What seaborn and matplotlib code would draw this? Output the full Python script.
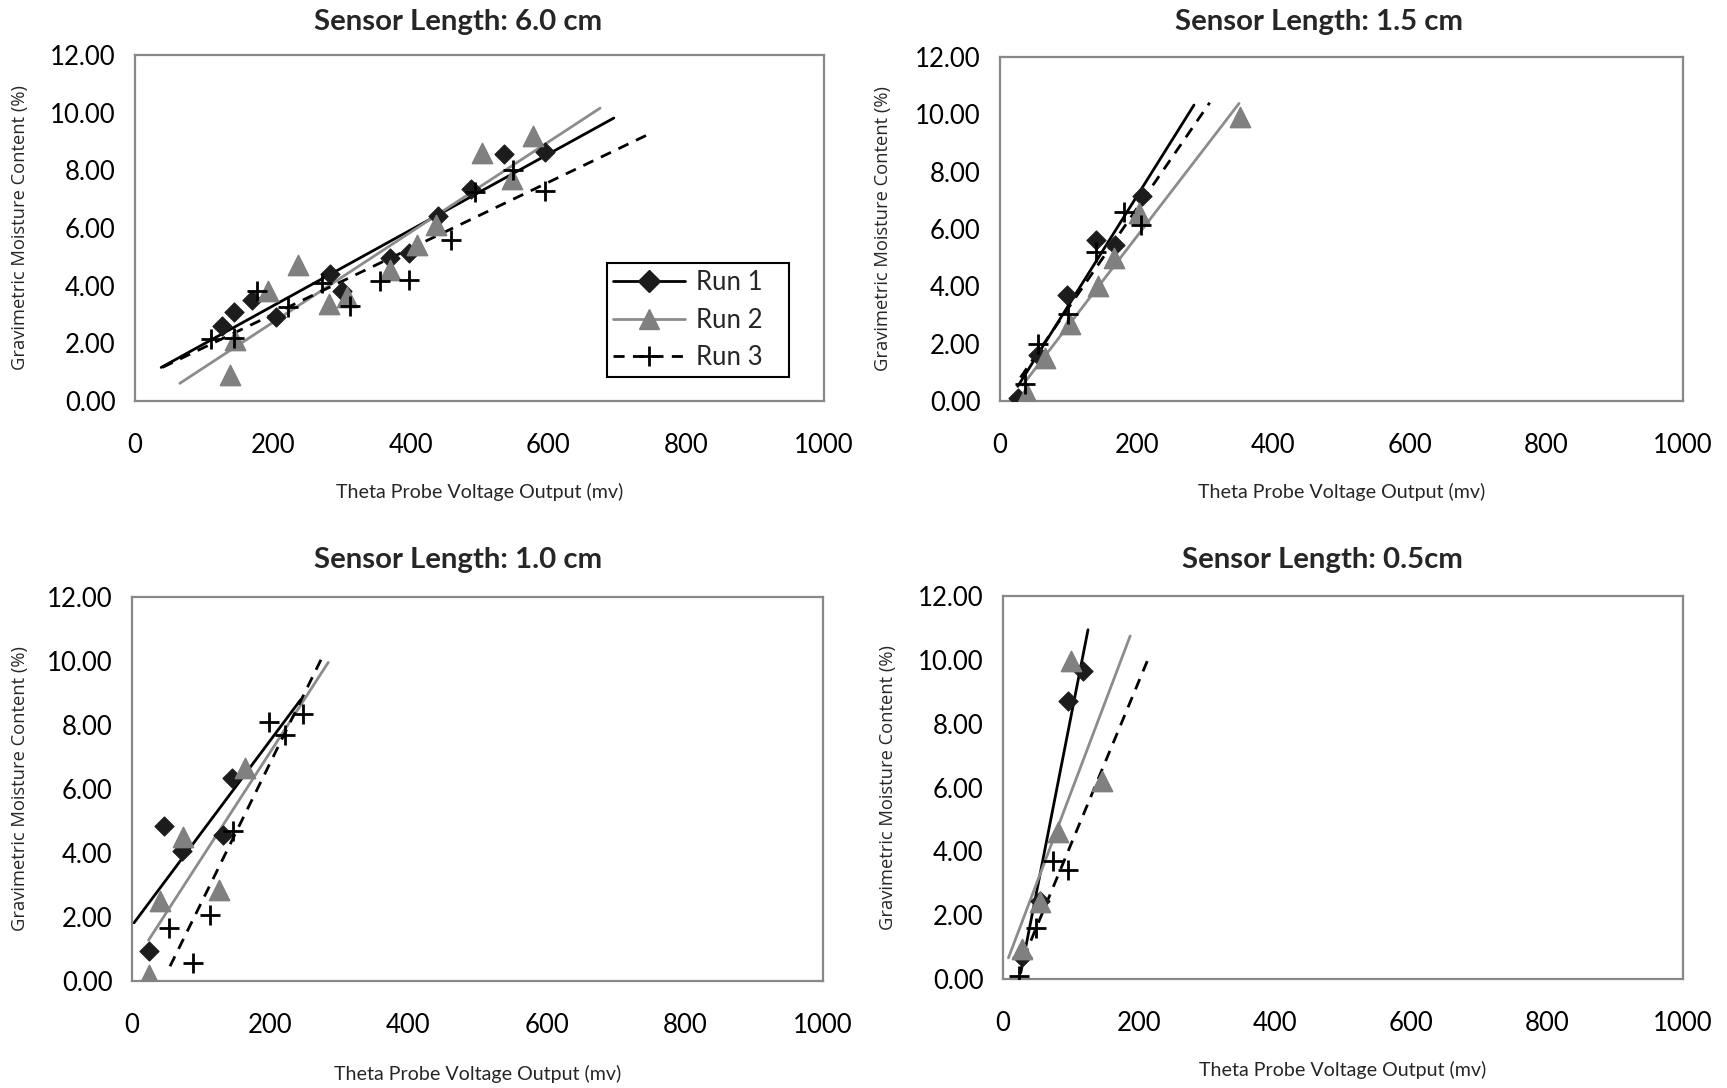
import numpy as np
import matplotlib
matplotlib.use("Agg")
import matplotlib.pyplot as plt
import seaborn as sns
from matplotlib.lines import Line2D

# ---- data (mv, %) ----
titles = ["Sensor Length: 6.0 cm", "Sensor Length: 1.5 cm",
          "Sensor Length: 1.0 cm", "Sensor Length: 0.5cm"]
runs = ["Run 1", "Run 2", "Run 3"]

# 6.0 cm
p1_run1_x = [126, 144, 170, 205, 283, 300, 370, 398, 440, 488, 536, 595]
p1_run1_y = [2.6, 3.1, 3.5, 2.9, 4.4, 3.8, 4.95, 5.15, 6.4, 7.35, 8.55, 8.65]
p1_run2_x = [138, 145, 193, 237, 281, 307, 370, 410, 437, 503, 547, 577]
p1_run2_y = [0.9, 2.1, 3.8, 4.7, 3.35, 3.6, 4.55, 5.4, 6.1, 8.6, 7.7, 9.2]
p1_run3_x = [110, 143, 177, 222, 272, 312, 355, 397, 458, 494, 548, 595]
p1_run3_y = [2.15, 2.2, 3.8, 3.25, 4.1, 3.3, 4.15, 4.2, 5.6, 7.25, 8.0, 7.3]

# 1.5 cm
p2_run1_x = [26, 56, 98, 140, 168, 208]
p2_run1_y = [0.1, 1.6, 3.7, 5.6, 5.45, 7.15]
p2_run2_x = [39, 66, 102, 143, 167, 203, 351]
p2_run2_y = [0.25, 1.5, 2.7, 4.0, 5.0, 6.55, 9.9]
p2_run3_x = [36, 56, 100, 140, 182, 206]
p2_run3_y = [0.6, 2.0, 3.05, 5.2, 6.6, 6.15]

# 1.0 cm
p3_run1_x = [24, 46, 73, 131, 144]
p3_run1_y = [0.95, 4.85, 4.05, 4.55, 6.35]
p3_run2_x = [24, 41, 74, 126, 164]
p3_run2_y = [0.2, 2.5, 4.5, 2.85, 6.65]
p3_run3_x = [53, 88, 113, 146, 198, 221, 248]
p3_run3_y = [1.65, 0.57, 2.05, 4.7, 8.1, 7.7, 8.35]

# 0.5 cm
p4_run1_x = [28, 54, 95, 118]
p4_run1_y = [0.7, 2.45, 8.7, 9.65]
p4_run2_x = [28, 54, 81, 100, 146]
p4_run2_y = [0.95, 2.4, 4.6, 9.95, 6.2]
p4_run3_x = [24, 49, 74, 95]
p4_run3_y = [0.1, 1.6, 3.7, 3.4]

# trendline extents (Excel forecast range)
p1_trend = [(38, 695), (65, 675), (40, 748)]
p2_trend = [(26, 284), (33, 350), (30, 307)]
p3_trend = [(3, 244), (24, 284), (55, 274)]
p4_trend = [(26, 125), (8, 187), (30, 216)]

panels = [
    ([(p1_run1_x, p1_run1_y), (p1_run2_x, p1_run2_y), (p1_run3_x, p1_run3_y)], p1_trend),
    ([(p2_run1_x, p2_run1_y), (p2_run2_x, p2_run2_y), (p2_run3_x, p2_run3_y)], p2_trend),
    ([(p3_run1_x, p3_run1_y), (p3_run2_x, p3_run2_y), (p3_run3_x, p3_run3_y)], p3_trend),
    ([(p4_run1_x, p4_run1_y), (p4_run2_x, p4_run2_y), (p4_run3_x, p4_run3_y)], p4_trend),
]

# ---- styling ----
sns.set_style("white")
plt.rcParams["font.family"] = ["Lato", "DejaVu Sans"]

marker_style = [
    dict(marker="D", color="#1c1c1c", s=95, edgecolor="#1c1c1c"),
    dict(marker="^", color="#808080", s=210, edgecolor="#808080"),
    dict(marker="+", color="black", s=200, linewidth=2.0),
]
line_style = [
    dict(color="black", lw=2.0, ls="-"),
    dict(color="#8c8c8c", lw=2.0, ls="-"),
    dict(color="black", lw=2.0, ls=(0, (4, 3))),
]

fig = plt.figure(figsize=(17.27, 10.88), dpi=100)
W, H = 1727, 1088
boxes = [(135, 55, 824, 401), (1000, 57, 1683, 401),
         (132, 597, 823, 981), (1003, 596, 1683, 979)]
title_pos = [(458, 22), (1319, 22), (458, 560), (1322, 560)]
xlab_y = [492, 492, 1074, 1070]
ylab_x = [20, 883, 20, 888]

for i, ((series, trend), box) in enumerate(zip(panels, boxes)):
    l, t, r, b = box
    ax = fig.add_axes([l / W, 1 - b / H, (r - l) / W, (b - t) / H])
    for k, ((xs, ys), (x0, x1)) in enumerate(zip(series, trend)):
        slope, icpt = np.polyfit(xs, ys, 1)
        xt = np.array([x0, x1])
        ax.plot(xt, slope * xt + icpt, zorder=2, **line_style[k])
        sns.scatterplot(x=xs, y=ys, ax=ax, zorder=3, **marker_style[k])
    ax.set_xlim(0, 1000)
    ax.set_ylim(0, 12)
    ax.set_xticks(np.arange(0, 1001, 200))
    ax.set_yticks(np.arange(0, 12.01, 2))
    ax.set_yticklabels([f"{v:.2f}" for v in np.arange(0, 12.01, 2)])
    for sp in ax.spines.values():
        sp.set_color("#888888")
        sp.set_linewidth(1.6)
    ax.tick_params(axis="both", direction="out", length=6, width=1.4,
                   color="#888888", labelsize=18.5, labelcolor="black")
    ax.tick_params(axis="x", pad=17)
    ax.tick_params(axis="y", pad=8)
    ax.set_xlabel("Theta Probe Voltage Output (mv)", fontsize=14.1, va="center")
    ax.xaxis.set_label_coords(0.5, (b - xlab_y[i]) / (b - t))
    ax.set_ylabel("Gravimetric Moisture Content (%)", fontsize=13.2,
                  family=["Open Sans", "DejaVu Sans"], va="center")
    ax.yaxis.set_label_coords((ylab_x[i] - l) / (r - l), 0.5)
    fig.text(title_pos[i][0] / W, 1 - title_pos[i][1] / H, titles[i],
             fontsize=21.2, fontweight="bold", ha="center", va="center")

    if i == 0:
        handles = [
            Line2D([], [], marker="D", markersize=11, markerfacecolor="#1c1c1c",
                   markeredgecolor="#1c1c1c", **line_style[0]),
            Line2D([], [], marker="^", markersize=14, markerfacecolor="#808080",
                   markeredgecolor="#808080", **line_style[1]),
            Line2D([], [], marker="+", markersize=15, markeredgewidth=2,
                   markeredgecolor="black", **line_style[2]),
        ]
        leg = ax.legend(handles, runs, loc="lower left", mode="expand",
                        bbox_to_anchor=(0.685, 0.070, 0.264, 0.30),
                        borderaxespad=0, fontsize=18.5, handlelength=2.8,
                        labelspacing=0.5, frameon=True, fancybox=False,
                        edgecolor="black", framealpha=1, borderpad=0.25,
                        handletextpad=0.4)
        leg.get_frame().set_linewidth(1.5)

fig.savefig("out.png", dpi=100)
